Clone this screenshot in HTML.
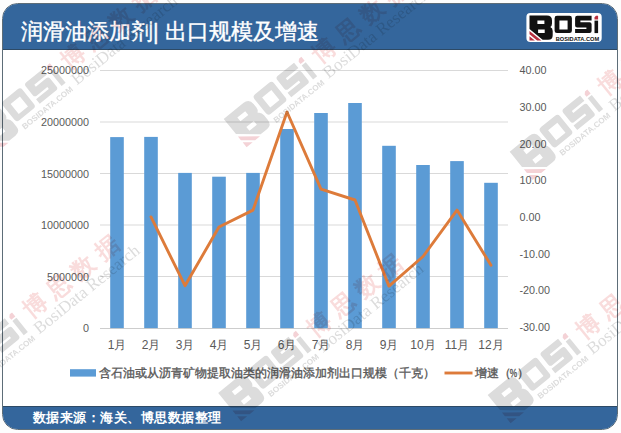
<!DOCTYPE html>
<html><head><meta charset="utf-8">
<style>
html,body{margin:0;padding:0;}
body{width:621px;height:433px;overflow:hidden;background:#fdfdfd;position:relative;font-family:"Liberation Sans",sans-serif;}
.frame{position:absolute;left:2px;top:3px;width:616px;height:427px;border-radius:15.5px;background:#fff;overflow:hidden;box-sizing:border-box;border:1px solid #5d6d78;}
.hd{position:absolute;left:0;top:0;right:0;height:45px;background:#34669c;border-bottom:1px solid #2d4a66;}
.ft{position:absolute;left:0;bottom:0;right:0;height:22px;background:#34669c;border-top:1px solid #2d4a66;}
.title{position:absolute;left:21px;top:18.5px;color:#fff;font-size:21.5px;-webkit-text-stroke:0.4px #fff;line-height:26px;white-space:nowrap;}
.foot{position:absolute;left:32.5px;top:409px;color:#fff;font-size:13.3px;letter-spacing:0.5px;font-weight:bold;line-height:18px;white-space:nowrap;}
svg{position:absolute;left:0;top:0;}
</style></head>
<body>
<div class="frame"><div class="hd"></div><div class="ft"></div></div>
<div class="title">润滑油添加剂| 出口规模及增速</div>
<div class="foot">数据来源：海关、博思数据整理</div>
<svg width="621" height="433" viewBox="0 0 621 433">
<defs>
<g id="lg">
<path style="fill:var(--k,#111)" fill-rule="evenodd" d="M3.1,2.4 H20.5 Q25.6,2.4 25.6,7.4 V10.5 Q25.6,12.9 23.9,13.9 Q26.3,15 26.3,18 V22.2 Q26.3,26.7 21.8,26.7 H16.2 L3.1,15.9 Z M11,7.6 H18 V11 H11 Z M11.7,16.6 H18.3 V20 H11.7 Z"/>
<path style="fill:var(--k,#111)" fill-rule="evenodd" d="M30.6,2.8 H43.1 Q45.5,2.8 45.5,5.2 V17.7 Q45.5,20.1 43.1,20.1 H30.6 Q28.2,20.1 28.2,17.7 V5.2 Q28.2,2.8 30.6,2.8 Z M33,7.6 V16.5 H41.2 V7.6 Z"/>
<path style="fill:var(--k,#111)" d="M50.8,2.8 H65.2 V7.6 H54 V9.3 H63.2 Q65.2,9.3 65.2,11.3 V18.1 Q65.2,20.1 63.2,20.1 H48.7 V16.1 H60 V14.5 H50.8 Q48.7,14.5 48.7,12.5 V4.9 Q48.7,2.8 50.8,2.8 Z"/>
<path style="fill:var(--k,#111)" d="M68.1,7.6 H71.7 V20.1 H68.1 Z"/>
<path style="fill:var(--r,#b8303f)" d="M69.6,2.8 H71.7 V6.4 H68.1 V4.3 Z M3.1,18 V21.3 L10.7,27.5 H15 Z M3.1,23.2 V27.5 H8.5 Z"/>
<text x="29.4" y="27.5" style="fill:var(--k,#111)" font-family="Liberation Sans" font-weight="bold" font-size="5.6" textLength="43.3" lengthAdjust="spacingAndGlyphs">BOSIDATA.COM</text>
</g>
<g id="wm">
<use href="#lg"/>
<text x="78.9" y="14.8" font-size="16" font-weight="bold" letter-spacing="5.3" style="fill:var(--p)">博思数据</text>
<text x="76.7" y="26.5" font-size="11.8" font-family="Liberation Serif" style="fill:var(--k)">BosiData Research</text>
</g>
</defs>
<g stroke="#d9d9d9" stroke-width="1">
<line x1="100" y1="70.5" x2="508" y2="70.5"/>
<line x1="100" y1="122" x2="508" y2="122"/>
<line x1="100" y1="173.5" x2="508" y2="173.5"/>
<line x1="100" y1="225" x2="508" y2="225"/>
<line x1="100" y1="276.5" x2="508" y2="276.5"/>
<line x1="100" y1="328.5" x2="508" y2="328.5" stroke="#cdcdcd"/>
</g>
<g fill="#5b9bd5">
<rect x="110.2" y="137.1" width="13.6" height="191"/>
<rect x="144.2" y="136.9" width="13.6" height="191.2"/>
<rect x="178.2" y="172.9" width="13.6" height="155.2"/>
<rect x="212.2" y="176.7" width="13.6" height="151.4"/>
<rect x="246.2" y="172.9" width="13.6" height="155.2"/>
<rect x="280.2" y="129" width="13.6" height="199.1"/>
<rect x="314.2" y="113" width="13.6" height="215.1"/>
<rect x="348.2" y="103" width="13.6" height="225.1"/>
<rect x="382.2" y="145.8" width="13.6" height="182.3"/>
<rect x="416.2" y="165" width="13.6" height="163.1"/>
<rect x="450.2" y="161.1" width="13.6" height="167"/>
<rect x="484.2" y="182.8" width="13.6" height="145.3"/>
</g>
<polyline fill="none" stroke="#dd7b3a" stroke-width="2.9" stroke-linejoin="round" stroke-linecap="round"
 points="151,216.9 185,285.7 219,227 253,210.1 287,112 321,189.2 355,200 389,286.1 423,256.5 457,210.1 491,265.3"/>
<g fill="#595959" font-size="10.8" font-family="Liberation Sans" text-anchor="end">
<text x="89" y="74.3">25000000</text>
<text x="89" y="125.9">20000000</text>
<text x="89" y="177.5">15000000</text>
<text x="89" y="229.1">10000000</text>
<text x="89" y="280.7">5000000</text>
<text x="89" y="332.3">0</text>
</g>
<g fill="#595959" font-size="10.8" font-family="Liberation Sans" text-anchor="start">
<text x="519.5" y="74.3">40.00</text>
<text x="519.5" y="111">30.00</text>
<text x="519.5" y="147.7">20.00</text>
<text x="519.5" y="184.3">10.00</text>
<text x="519.5" y="221">0.00</text>
<text x="519.5" y="257.7">-10.00</text>
<text x="519.5" y="294.3">-20.00</text>
<text x="519.5" y="331">-30.00</text>
</g>
<g fill="#595959" font-size="12" font-family="Liberation Sans" text-anchor="middle">
<text x="117" y="348.7">1月</text>
<text x="151" y="348.7">2月</text>
<text x="185" y="348.7">3月</text>
<text x="219" y="348.7">4月</text>
<text x="253" y="348.7">5月</text>
<text x="287" y="348.7">6月</text>
<text x="321" y="348.7">7月</text>
<text x="355" y="348.7">8月</text>
<text x="389" y="348.7">9月</text>
<text x="423" y="348.7">10月</text>
<text x="457" y="348.7">11月</text>
<text x="491" y="348.7">12月</text>
</g>
<rect x="70" y="369.2" width="26" height="7.4" fill="#5b9bd5"/>
<line x1="444.5" y1="373" x2="472.5" y2="373" stroke="#dd7b3a" stroke-width="2.9"/>
<g fill="#595959" font-size="11.7" font-family="Liberation Sans" stroke="#595959" stroke-width="0.35">
<text x="99.3" y="377.3">含石油或从沥青矿物提取油类的润滑油添加剂出口规模（千克）</text>
<text x="474.5" y="377.3">增速（</text><text x="509.8" y="377" font-size="10.5" textLength="7.4" lengthAdjust="spacingAndGlyphs">%</text><text x="516.6" y="377.3">）</text>
</g>
<rect x="526.4" y="13" width="75.3" height="29" rx="4" fill="#fff"/>
<use href="#lg" transform="translate(526.4,13)"/>
<g style="mix-blend-mode:multiply;--k:#dcdcdc;--r:#f4d2d6;--p:#f9dcdc">
<use href="#wm" transform="translate(-33.5,125.5) rotate(-39) scale(1.45)"/>
<use href="#wm" transform="translate(218,119) rotate(-39) scale(1.45)"/>
<use href="#wm" transform="translate(504,151.8) rotate(-39) scale(1.45)"/>
<use href="#wm" transform="translate(-71.3,374.7) rotate(-39) scale(1.45)"/>
<use href="#wm" transform="translate(212.5,393) rotate(-39) scale(1.45)"/>
<use href="#wm" transform="translate(482,395) rotate(-39) scale(1.45)"/>
</g>
</svg>
</body></html>
